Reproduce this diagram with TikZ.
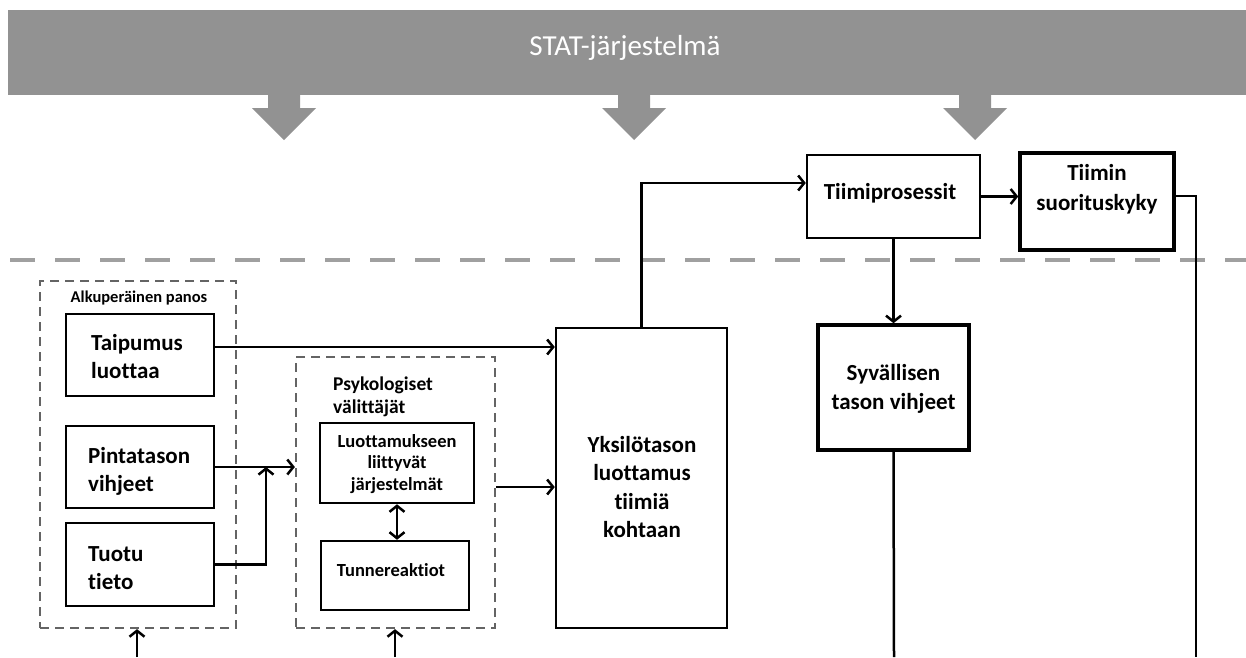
\documentclass[tikz,border=0pt]{standalone}
\usepackage{fontspec}
\setmainfont{Carlito}[Ligatures=NoCommon]
\usetikzlibrary{arrows.meta}
\usetikzlibrary{positioning}

\definecolor{statgray}{RGB}{146,146,146}
\definecolor{levelgray}{RGB}{160,160,160}
\definecolor{framegray}{RGB}{100,100,100}

\tikzset{
  box/.style={draw, line width=2.5pt, inner sep=0pt},
  strongbox/.style={box, line width=3.5pt},
  group/.style={draw=framegray, line width=2.2pt, dash pattern=on 9pt off 6pt, inner sep=0pt},
  bigtext/.style={font=\bfseries\fontsize{23}{28}\selectfont, inner sep=0pt},
  midtext/.style={font=\bfseries\fontsize{23}{28.5}\selectfont, inner sep=0pt, align=center},
  smalltext/.style={font=\bfseries\fontsize{18.5}{21.5}\selectfont, inner sep=0pt, align=center},
  link/.style={line width=2.5pt},
  flow/.style={link, -{Straight Barb[length=6pt, width=15pt, line width=2.5pt]}},
  twoway/.style={link, {Straight Barb[length=6pt, width=15pt, line width=2.5pt]}-{Straight Barb[length=6pt, width=15pt, line width=2.5pt]}},
}

\begin{document}
\begin{tikzpicture}[x=1pt, y=-1pt]
\useasboundingbox (0,0) rectangle (1246,657);

% STAT-system bar
\fill[statgray] (8,10) rectangle (1246,95);
\node[font=\fontsize{29}{32}\selectfont, text=white] (stat) at (625,48) {STAT-järjestelmä};
\foreach \x in {284, 634, 975} {
   \fill[statgray] (\x-16,94) -- (\x+16,94) -- (\x+16,108) -- (\x+32,108) -- (\x,140) -- (\x-32,108) -- (\x-16,108) -- cycle;
}

% level line
\draw[levelgray, line width=4pt, dash pattern=on 25pt off 20pt] (10,260) -- (1246,260);

% initial input
\node[group, minimum width=196, minimum height=347] (alku) at (138,454.5) {};
\node[font=\bfseries\fontsize{16.5}{19}\selectfont] (alkuname) at (139,298) {Alkuperäinen panos};

\node[box, minimum width=148, minimum height=82] (taipumus) at (140,355) {};
\node[bigtext, align=left, anchor=west] (taipumustext) at (91,357) {Taipumus\\luottaa};

\node[box, minimum width=148, minimum height=82] (pinta) at (140,467) {};
\node[bigtext, align=left, anchor=west] (pintatext) at (88,471) {Pintatason\\vihjeet};

\node[box, minimum width=148, minimum height=83] (tuotu) at (140,564.5) {};
\node[bigtext, align=left, anchor=west] (tuotutext) at (88,568) {Tuotu\\tieto};

% psychological mediators
\node[group, minimum width=199, minimum height=271] (psyk) at (395.5,492.5) {};
\node[font=\bfseries\fontsize{19.5}{23}\selectfont, align=left, anchor=west, inner sep=0pt] (psyktext) at (333,397) {Psykologiset\\välittäjät};

\node[box, minimum width=154, minimum height=80] (luott) at (397,463) {};
\node[smalltext] (luotttext) at (397,464) {Luottamukseen\\liittyvät\\järjestelmät};

\node[box, minimum width=148, minimum height=69] (tunne) at (395,575.5) {};
\node[smalltext] (tunnetext) at (391,570) {Tunnereaktiot};

% individual trust
\node[box, minimum width=171, minimum height=300] (yksilo) at (641.5,478) {};
\node[midtext] (yksilotext) at (642,487) {Yksilötason\\luottamus\\tiimiä\\kohtaan};

% team level
\node[box, minimum width=173, minimum height=83] (prosessit) at (893.5,196.5) {};
\node[midtext] (prosessittext) at (890,193) {Tiimiprosessit};

\node[strongbox, minimum width=154, minimum height=97] (suoritus) at (1097,201.5) {};
\node[midtext, font=\bfseries\fontsize{23}{30}\selectfont] (suoritustext) at (1097,189) {Tiimin\\suorituskyky};

\node[strongbox, minimum width=151, minimum height=125] (syva) at (893.5,387.5) {};
\node[midtext] (syvatext) at (893.5,389) {Syvällisen\\tason vihjeet};

% free ends at the lower edge
\coordinate (alkuin) at (137,657);
\coordinate (psykin) at (395,657);
\coordinate (syvaout) at (894,657);
\coordinate (suoritusout) at (1196,657);
\coordinate (join) at (266,467);

% connectors
\draw[flow] ([yshift=8pt]taipumus.east) -- ([yshift=8pt]taipumus.east -| yksilo.west);
\draw[flow] (pinta.east) -- (pinta.east -| psyk.west);
\draw[flow] (tuotu.east) -| (join);
\draw[twoway] (luott.south) -- (luott.south |- tunne.north);
\draw[flow] ([yshift=5.5pt]psyk.east) -- ([yshift=5.5pt]psyk.east -| yksilo.west);
\draw[flow] (yksilo.north) |- ([yshift=13.5pt]prosessit.west);
\draw[flow] (prosessit.east) -- (prosessit.east -| suoritus.west);
\draw[flow] (prosessit.south) -- (prosessit.south |- syva.north);
\draw[link] (syva.south) -- (syvaout);
\draw[link] ([yshift=5.5pt]suoritus.east) -| (suoritusout);
\draw[flow] (alkuin) -- (alkuin |- alku.south);
\draw[flow] (psykin) -- (psykin |- psyk.south);
\end{tikzpicture}
\end{document}
